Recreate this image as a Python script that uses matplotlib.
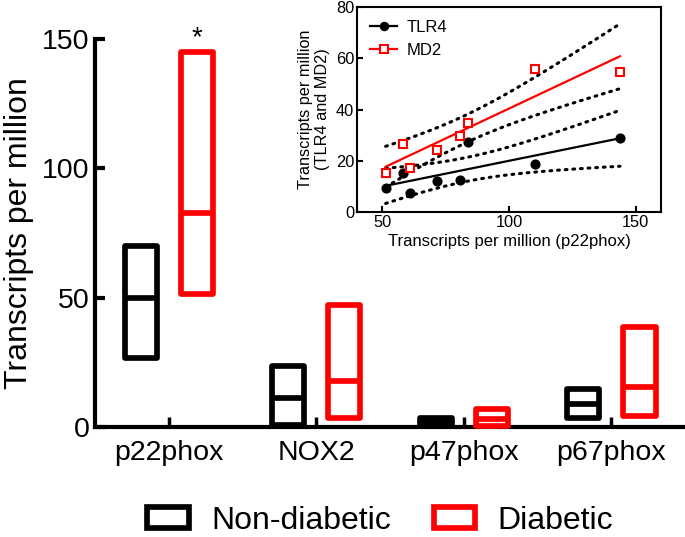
import numpy as np
import matplotlib
matplotlib.use("Agg")
import matplotlib.pyplot as plt
from matplotlib.patches import Patch
from matplotlib.lines import Line2D

plt.rcParams['font.family'] = ['Liberation Sans', 'DejaVu Sans']

# ---- main chart data (min, median, max) ----
genes = ["p22phox", "NOX2", "p47phox", "p67phox"]
nd_min = [26.7, 0.8, 0.4, 3.6]
nd_med = [50.0, 11.2, 1.8, 8.8]
nd_max = [70.0, 23.6, 3.3, 14.8]
d_min = [51.4, 3.5, 0.3, 4.3]
d_med = [82.7, 17.8, 3.0, 15.5]
d_max = [144.8, 47.2, 6.9, 38.7]
y_ticks = [0, 50, 100, 150]

# ---- inset data ----
p22 = [51.3, 58.0, 60.8, 71.7, 80.8, 84.0, 110.4, 143.8]
tlr4 = [9.4, 15.3, 7.5, 12.0, 12.6, 27.3, 18.9, 28.9]
md2 = [15.3, 26.4, 17.0, 24.3, 29.6, 34.9, 56.0, 54.5]
t_crit = 2.4469  # t(0.975, df=6)

fig = plt.figure(figsize=(6.85, 5.37), dpi=100)
ax = fig.add_axes([95/685, 1-427/537, 1-95/685, (427-39)/537])

xpos = np.arange(len(genes))
off = 0.19
w = 0.22
lw_box = 4.1
for vals, color, sign in [((nd_min, nd_med, nd_max), 'black', -1),
                          ((d_min, d_med, d_max), '#ff0000', 1)]:
    mn, md, mx = [np.array(v) for v in vals]
    xs = xpos + sign*off
    ax.bar(xs, mx-mn, bottom=mn, width=w, fill=False, edgecolor=color,
           linewidth=lw_box, joinstyle='round', clip_on=False, zorder=3)
    ax.hlines(md, xs-w/2, xs+w/2, colors=color, linewidth=lw_box, zorder=3)

ax.text(xpos[0]+off, d_max[0]+0.5, "*", ha='center', va='bottom', fontsize=20)

ax.set_xlim(-0.5, 3.5)
ax.set_ylim(0, 150)
ax.set_xticks(xpos)
ax.set_xticklabels(genes, fontsize=20.5)
ax.set_yticks(y_ticks)
ax.set_yticklabels([str(v) for v in y_ticks], fontsize=20.5)
ax.spines['top'].set_visible(False)
ax.spines['right'].set_visible(False)
for s in ['left', 'bottom']:
    ax.spines[s].set_linewidth(3)
ax.tick_params(axis='y', direction='in', length=7, width=3, pad=4)
ax.tick_params(axis='x', direction='in', length=7, width=2.5, pad=9)
ax.set_ylabel("Transcripts per million", fontsize=23, labelpad=6)

handles = [Patch(facecolor='white', edgecolor='black', linewidth=4.1, joinstyle='round'),
           Patch(facecolor='white', edgecolor='#ff0000', linewidth=4.1, joinstyle='round')]
fig.legend(handles, ["Non-diabetic", "Diabetic"], loc='center', ncol=2,
           bbox_to_anchor=(0.555, 0.03), frameon=False, fontsize=23,
           handlelength=1.3, handleheight=0.62, handletextpad=0.7,
           columnspacing=1.35)

# ---- inset ----
ax2 = fig.add_axes([357/685, 1-212/537, (661-357)/685, (212-7)/537])
x = np.array(p22)
xx = np.linspace(x.min(), x.max(), 100)
for yv, color, marker, mfc in [(tlr4, 'black', 'o', 'black'), (md2, '#ff0000', 's', 'white')]:
    y = np.array(yv)
    n = len(x)
    slope, icpt = np.polyfit(x, y, 1)
    fit = slope*xx + icpt
    resid = y - (slope*x + icpt)
    s = np.sqrt(np.sum(resid**2)/(n-2))
    sxx = np.sum((x - x.mean())**2)
    hw = t_crit*s*np.sqrt(1/n + (xx - x.mean())**2/sxx)
    ax2.plot(xx, fit, color=color, lw=1.6, zorder=2)
    ax2.plot(xx, fit+hw, color='black', lw=2.2, linestyle=(0, (0.6, 1.9)),
             dash_capstyle='round', zorder=1)
    ax2.plot(xx, fit-hw, color='black', lw=2.2, linestyle=(0, (0.6, 1.9)),
             dash_capstyle='round', zorder=1)
    ax2.plot(x, y, linestyle='none', marker=marker, markersize=6.3 if marker == 's' else 5.8,
             markerfacecolor=mfc, markeredgecolor=color, markeredgewidth=1.5, zorder=4)

ax2.set_xlim(40, 160)
ax2.set_ylim(0, 80)
ax2.set_xticks([50, 100, 150])
ax2.set_yticks([0, 20, 40, 60, 80])
ax2.tick_params(labelsize=11.8, width=1.5, length=4, direction='in', pad=2)
for s in ax2.spines.values():
    s.set_linewidth(1.5)
ax2.set_xlabel("Transcripts per million (p22phox)", fontsize=12, labelpad=3)
ax2.set_ylabel("Transcripts per million\n(TLR4 and MD2)", fontsize=11.7, labelpad=4,
               linespacing=1.15)
lh = [Line2D([], [], color='black', marker='o', markersize=5.8, lw=1.6),
      Line2D([], [], color='#ff0000', marker='s', markersize=6.3, markerfacecolor='white',
             markeredgewidth=1.5, lw=1.6)]
ax2.legend(lh, ["TLR4", "MD2"], loc='upper left', frameon=False, fontsize=12,
           handlelength=1.6, handletextpad=0.6, borderaxespad=0.4, labelspacing=0.45)

fig.savefig("out.png", dpi=100)
